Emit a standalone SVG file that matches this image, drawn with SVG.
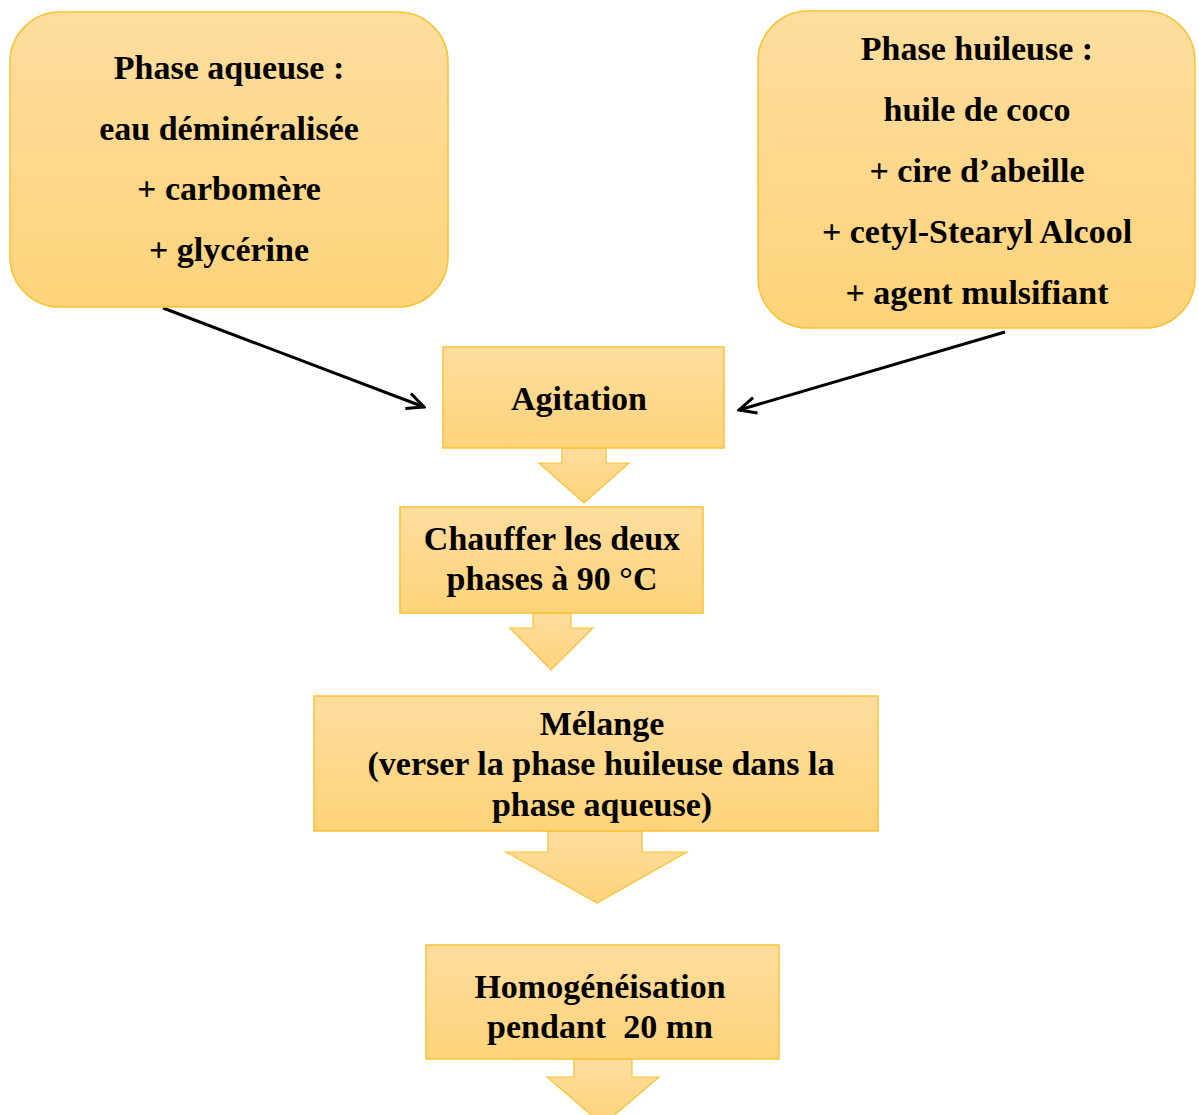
<svg xmlns="http://www.w3.org/2000/svg" width="1199" height="1115" viewBox="0 0 1199 1115">
<defs>
<linearGradient id="g" x1="0" y1="0" x2="0" y2="1">
<stop offset="0" stop-color="#fedd9e"/>
<stop offset="1" stop-color="#fed37a"/>
</linearGradient>
<marker id="open" viewBox="0 0 20 20" refX="18" refY="10" markerWidth="20" markerHeight="20" markerUnits="userSpaceOnUse" orient="auto">
<path d="M1,2 L18,10 L1,18" fill="none" stroke="#000" stroke-width="3" stroke-linejoin="miter"/>
</marker>
<style>
.box{fill:url(#g);stroke:#f9c232;stroke-width:1.5}
.blk{fill:url(#g);stroke:#f9c232;stroke-width:1.2}
.t{font-family:"Liberation Serif","Times New Roman",serif;font-weight:bold;font-size:34px;fill:#000;text-anchor:middle}
.c{stroke:#000;stroke-width:3;fill:none}
</style>
</defs>
<rect width="1199" height="1115" fill="#fff"/>
<g id="connectors">
<line class="c" x1="163" y1="308" x2="424" y2="407" marker-end="url(#open)"/>
<line class="c" x1="1005" y1="332" x2="739" y2="410" marker-end="url(#open)"/>
<polygon id="arrow1" class="blk" points="562,448 606,448 606,463 629,463 584,503 539,463 562,463"/>
<polygon id="arrow2" class="blk" points="533,613 571,613 571,628 593,628 551,670 510,628 533,628"/>
<polygon id="arrow3" class="blk" points="548,831 642,831 642,852 687,852 597,903 506,852 548,852"/>
<polygon id="arrow4" class="blk" points="574,1059 632,1059 632,1077 659,1077 603,1125 547,1077 574,1077"/>
</g>
<g id="phase-aqueuse">
<rect class="box" x="10" y="12" width="438" height="295" rx="50" ry="50"/>
<text class="t" x="229" y="79">Phase aqueuse :</text>
<text class="t" x="229" y="140">eau déminéralisée</text>
<text class="t" x="229" y="200">+ carbomère</text>
<text class="t" x="229" y="261">+ glycérine</text>
</g>
<g id="phase-huileuse">
<rect class="box" x="758" y="11" width="437" height="317" rx="50" ry="50"/>
<text class="t" x="977" y="60">Phase huileuse :</text>
<text class="t" x="977" y="121">huile de coco</text>
<text class="t" x="977" y="182">+ cire d’abeille</text>
<text class="t" x="977" y="243">+ cetyl-Stearyl Alcool</text>
<text class="t" x="977" y="304">+ agent mulsifiant</text>
</g>
<g id="agitation">
<rect class="box" x="443" y="347" width="281" height="101"/>
<text class="t" x="579" y="410">Agitation</text>
</g>
<g id="chauffer">
<rect class="box" x="400" y="507" width="303" height="106"/>
<text class="t" x="552" y="550">Chauffer les deux</text>
<text class="t" x="552" y="590">phases à 90 °C</text>
</g>
<g id="melange">
<rect class="box" x="314" y="696" width="564" height="135"/>
<text class="t" x="602" y="735">Mélange</text>
<text class="t" x="601" y="775">(verser la phase huileuse dans la</text>
<text class="t" x="602" y="816">phase aqueuse)</text>
</g>
<g id="homogeneisation">
<rect class="box" x="426" y="945" width="353" height="114"/>
<text class="t" x="600" y="998">Homogénéisation</text>
<text class="t" x="600" y="1038" xml:space="preserve" style="white-space:pre">pendant  20 mn</text>
</g>
</svg>
